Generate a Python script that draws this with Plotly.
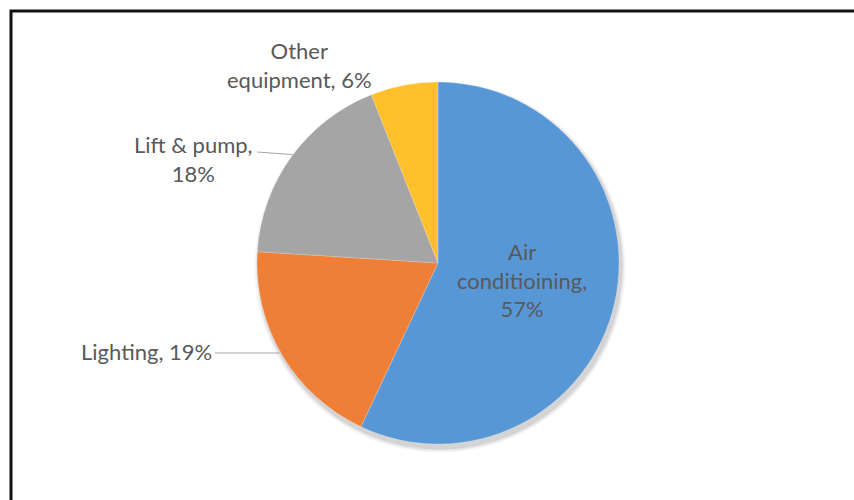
import plotly.graph_objects as go
import math

categories = ["Air conditioining", "Lighting", "Lift & pump", "Other equipment"]
values = [57, 19, 18, 6]
colors = ["#5897d6", "#ef7f37", "#a5a5a5", "#ffc12b"]

W, H = 854, 500
cx, cy, R = 438, 263, 181

fig = go.Figure()
fig.add_trace(go.Pie(
    labels=categories, values=values, sort=False, direction="clockwise", rotation=0,
    marker=dict(colors=colors, line=dict(color="rgba(255,255,255,0.4)", width=0.5)),
    textinfo="none", hoverinfo="label+percent", showlegend=False,
    domain=dict(x=[(cx - R) / W, (cx + R) / W], y=[(H - cy - R) / H, (H - cy + R) / H]),
))

def px(x):
    return x / W

def py(y):
    return (H - y) / H

font = dict(family="Lato, 'Open Sans', sans-serif", size=22, color="#595959")

# soft shadow behind pie
shapes = []
for d, op in [(9, 0.04), (6, 0.06), (3, 0.08)]:
    shapes.append(dict(type="circle", xref="paper", yref="paper", layer="below",
                       x0=px(cx - R + 2 - d / 2), x1=px(cx + R + 2 + d / 2),
                       y0=py(cy + R + 4 + d / 2), y1=py(cy - R + 4 - d / 2),
                       fillcolor=f"rgba(0,0,0,{op})", line=dict(width=0)))

# leader lines from slice mid angles
total = sum(values)
cum = 0
mids = []
for v in values:
    mids.append((cum + v / 2) / total * 2 * math.pi)
    cum += v

def edge(i):
    a = mids[i]
    return cx + R * math.sin(a), cy - R * math.cos(a)

ex, ey = edge(1)
shapes.append(dict(type="line", xref="paper", yref="paper", x0=px(215), y0=py(353), x1=px(ex - 3), y1=py(353),
                   line=dict(color="#a6a6a6", width=1)))
ex, ey = edge(2)
shapes.append(dict(type="line", xref="paper", yref="paper", x0=px(257), y0=py(152), x1=px(ex + 1), y1=py(ey - 2),
                   line=dict(color="#a6a6a6", width=1)))

# outer frame
shapes.append(dict(type="rect", xref="paper", yref="paper", x0=px(11), x1=px(870), y0=py(11), y1=py(520),
                   line=dict(color="#111111", width=3)))

annotations = [
    dict(text=f"Air<br>conditioining,<br>{values[0]}%", x=px(522), y=py(280), xanchor="center", yanchor="middle"),
    dict(text=f"{categories[1]}, {values[1]}%", x=px(214), y=py(351), xanchor="right", yanchor="middle"),
    dict(text=f"{categories[2]},<br>{values[2]}%", x=px(193), y=py(159), xanchor="center", yanchor="middle"),
    dict(text=f"Other<br>equipment, {values[3]}%", x=px(299), y=py(65), xanchor="center", yanchor="middle"),
]
for a in annotations:
    a.update(xref="paper", yref="paper", showarrow=False, font=font, align="center")

fig.update_layout(width=W, height=H, margin=dict(l=0, r=0, t=0, b=0),
                  paper_bgcolor="white", plot_bgcolor="white",
                  shapes=shapes, annotations=annotations)

fig.write_html("out.html", config={"displayModeBar": False},
               post_script="document.body.style.margin='0px';document.body.style.overflow='hidden';")
